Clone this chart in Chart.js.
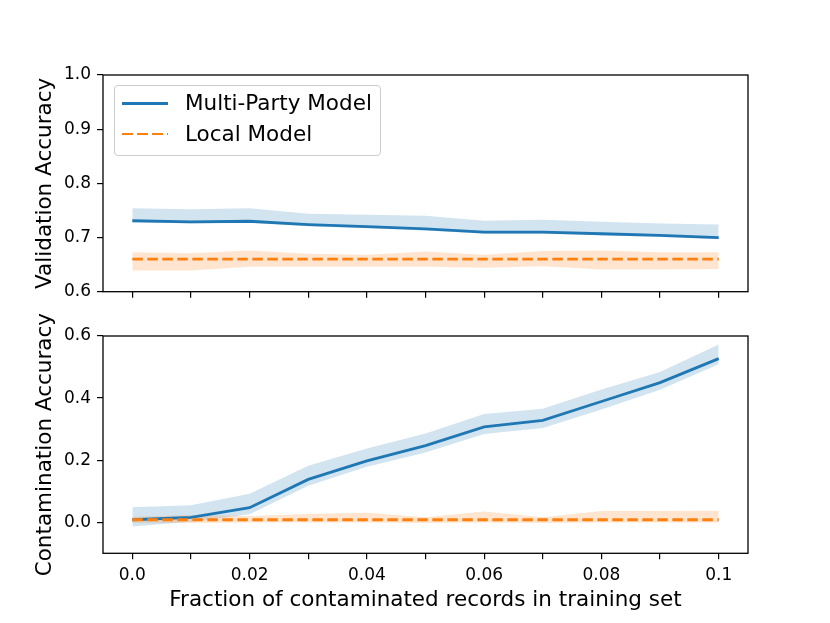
<!DOCTYPE html>
<html>
<head>
<meta charset="utf-8">
<script src="https://cdn.jsdelivr.net/npm/chart.js@4/dist/chart.umd.min.js"></script>
<style>
  html, body { margin: 0; padding: 0; background: #fff; }
  #wrap { position: relative; width: 830px; height: 623px; overflow: hidden; font-family: "DejaVu Sans", sans-serif; }
  #c1 { position: absolute; left: 0; top: 0; }
  #c2 { position: absolute; left: 0; top: 290px; }
  #legend { position: absolute; left: 114px; top: 85px; width: 265px; height: 69px;
            border: 1px solid #cccccc; border-radius: 4px; background: rgba(255,255,255,0.8); }
  .item { position: absolute; left: 0; height: 30px; width: 265px; }
  .sample { position: absolute; left: 7px; width: 46px; height: 0; }
  .lbl { position: absolute; left: 70px; font-size: 21.5px; line-height: 30px; color: #000; white-space: nowrap; }
</style>
</head>
<body>
<div id="wrap">
  <canvas id="c1" width="830" height="340"></canvas>
  <canvas id="c2" width="830" height="333"></canvas>
  <div id="legend"></div>
</div>
<script>
// ---------------- data ----------------
const xValues = [0.0, 0.01, 0.02, 0.03, 0.04, 0.05, 0.06, 0.07, 0.08, 0.09, 0.1];
const xTickLabels = ['0.0', '', '0.02', '', '0.04', '', '0.06', '', '0.08', '', '0.1'];
const seriesNames = ['Multi-Party Model', 'Local Model'];

// Validation accuracy
const valMultiMean  = [0.731, 0.729, 0.730, 0.724, 0.720, 0.716, 0.710, 0.710, 0.707, 0.704, 0.700];
const valMultiUpper = [0.754, 0.752, 0.754, 0.744, 0.742, 0.740, 0.731, 0.733, 0.729, 0.726, 0.724];
const valMultiLower = [0.728, 0.726, 0.727, 0.721, 0.717, 0.713, 0.707, 0.707, 0.704, 0.701, 0.697];
const valLocalMean  = [0.660, 0.660, 0.660, 0.660, 0.660, 0.660, 0.660, 0.660, 0.660, 0.660, 0.660];
const valLocalUpper = [0.673, 0.671, 0.676, 0.670, 0.668, 0.674, 0.668, 0.675, 0.676, 0.673, 0.673];
const valLocalLower = [0.639, 0.639, 0.646, 0.646, 0.646, 0.646, 0.644, 0.647, 0.641, 0.641, 0.642];
const valYTicks = [0.6, 0.7, 0.8, 0.9, 1.0];

// Contamination accuracy
const conMultiMean  = [0.008, 0.016, 0.047, 0.138, 0.198, 0.247, 0.307, 0.328, 0.389, 0.450, 0.527];
const conMultiUpper = [0.048, 0.055, 0.092, 0.182, 0.238, 0.286, 0.349, 0.366, 0.428, 0.484, 0.573];
const conMultiLower = [-0.014, 0.002, 0.026, 0.118, 0.179, 0.225, 0.284, 0.304, 0.363, 0.427, 0.509];
const conLocalMean  = [0.008, 0.008, 0.008, 0.008, 0.008, 0.008, 0.008, 0.008, 0.008, 0.008, 0.008];
const conLocalUpper = [0.018, 0.023, 0.020, 0.027, 0.031, 0.016, 0.035, 0.016, 0.036, 0.036, 0.037];
const conLocalLower = [-0.002, -0.002, -0.001, -0.001, -0.001, -0.002, -0.001, -0.002, -0.001, -0.001, -0.001];
const conYTicks = [0.0, 0.2, 0.4, 0.6];

// ---------------- styling ----------------
const BLUE = '#1f77b4', ORANGE = '#ff7f0e';
const BLUE_FILL = 'rgba(31,119,180,0.2)', ORANGE_FILL = 'rgba(255,127,14,0.2)';
const FONT = '"DejaVu Sans", sans-serif';
const DASH = [10.5, 4.5];
const LW = 2.8;

const pts = arr => arr.map((y, i) => ({ x: xValues[i], y: y }));

function datasets(mMean, mUp, mLo, lMean, lUp, lLo) {
  const band = (data, color, fill, order) => ({
    data: pts(data), borderWidth: 0, pointRadius: 0, backgroundColor: color,
    borderColor: 'rgba(0,0,0,0)', fill: fill, tension: 0, order: order
  });
  return [
    band(mUp, BLUE_FILL, '+1', 4),
    band(mLo, BLUE_FILL, false, 4),
    band(lUp, ORANGE_FILL, '+1', 3),
    band(lLo, ORANGE_FILL, false, 3),
    { label: seriesNames[0], data: pts(mMean), borderColor: BLUE, borderWidth: LW,
      pointRadius: 0, fill: false, tension: 0, order: 1 },
    { label: seriesNames[1], data: pts(lMean), borderColor: ORANGE, borderWidth: LW,
      borderDash: DASH, pointRadius: 0, fill: false, tension: 0, order: 0 }
  ];
}

const framePlugin = {
  id: 'frame',
  afterDatasetsDraw(chart) {
    const a = chart.chartArea, ctx = chart.ctx;
    ctx.save();
    ctx.strokeStyle = '#000';
    ctx.lineWidth = 1.3;
    ctx.strokeRect(a.left, a.top, a.right - a.left, a.bottom - a.top);
    ctx.restore();
  }
};

function makeChart(canvas, ds, yMin, yMax, yTicks, yTitle, isBottom, padTop, xHeight) {
  return new Chart(canvas, {
    type: 'line',
    data: { datasets: ds },
    plugins: [framePlugin],
    options: {
      responsive: false,
      animation: false,
      devicePixelRatio: 1,
      layout: { padding: { left: 0, right: 82, top: padTop, bottom: 0 } },
      plugins: {
        legend: { display: false },
        tooltip: { enabled: false },
        filler: { drawTime: 'beforeDatasetsDraw' }
      },
      scales: {
        x: {
          type: 'linear', min: -0.005, max: 0.105,
          afterBuildTicks: s => { s.ticks = xValues.map(v => ({ value: v })); },
          afterFit: s => { s.height = xHeight; },
          grid: { display: true, drawOnChartArea: false, drawTicks: true, tickLength: 6, color: '#000', lineWidth: 1.2 },
          border: { display: false },
          ticks: {
            display: isBottom, padding: 6, color: '#000', maxRotation: 0, autoSkip: false,
            font: { family: FONT, size: 17 },
            callback: (v, i) => xTickLabels[i]
          },
          title: {
            display: isBottom, text: 'Fraction of contaminated records in training set',
            color: '#000', font: { family: FONT, size: 21.5 }, padding: { top: 0, bottom: 10 }
          }
        },
        y: {
          type: 'linear', min: yMin, max: yMax,
          afterBuildTicks: s => { s.ticks = yTicks.map(v => ({ value: v })); },
          afterFit: s => { s.width = 103; },
          grid: { display: true, drawOnChartArea: false, drawTicks: true, tickLength: 6, color: '#000', lineWidth: 1.2 },
          border: { display: false },
          ticks: {
            padding: 6, color: '#000', font: { family: FONT, size: 17 },
            callback: v => Number(v).toFixed(1)
          },
          title: {
            display: true, text: yTitle, color: '#000',
            font: { family: FONT, size: 21.5 }, padding: { top: 33, bottom: 0 }
          }
        }
      }
    }
  });
}

// top panel: chart area 75 .. 291.7 (canvas height 340)
const chart1 = makeChart(document.getElementById('c1'),
  datasets(valMultiMean, valMultiUpper, valMultiLower, valLocalMean, valLocalUpper, valLocalLower),
  0.6, 1.0, valYTicks, 'Validation Accuracy', false, 75, 48.3);

// bottom panel: canvas starts at 290; chart area 336 .. 553.3
const chart2 = makeChart(document.getElementById('c2'),
  datasets(conMultiMean, conMultiUpper, conMultiLower, conLocalMean, conLocalUpper, conLocalLower),
  -0.1, 0.6, conYTicks, 'Contamination Accuracy', true, 46, 69.7);

// ---------------- legend (HTML, built from chart datasets) ----------------
const legend = document.getElementById('legend');
const lineSets = chart1.data.datasets.filter(d => d.label);
const rowCenters = [17, 47.5];
lineSets.forEach((d, i) => {
  const item = document.createElement('div');
  item.className = 'item';
  item.style.top = (rowCenters[i] - 15) + 'px';
  const s = document.createElement('div');
  s.className = 'sample';
  s.style.top = '14px';
  s.style.height = LW + 'px';
  if (d.borderDash) {
    s.style.background = `repeating-linear-gradient(to right, ${d.borderColor} 0 ${DASH[0]}px, transparent ${DASH[0]}px ${DASH[0] + DASH[1]}px)`;
  } else {
    s.style.background = d.borderColor;
  }
  const t = document.createElement('div');
  t.className = 'lbl';
  t.textContent = d.label;
  item.appendChild(s);
  item.appendChild(t);
  legend.appendChild(item);
});
</script>
</body>
</html>
